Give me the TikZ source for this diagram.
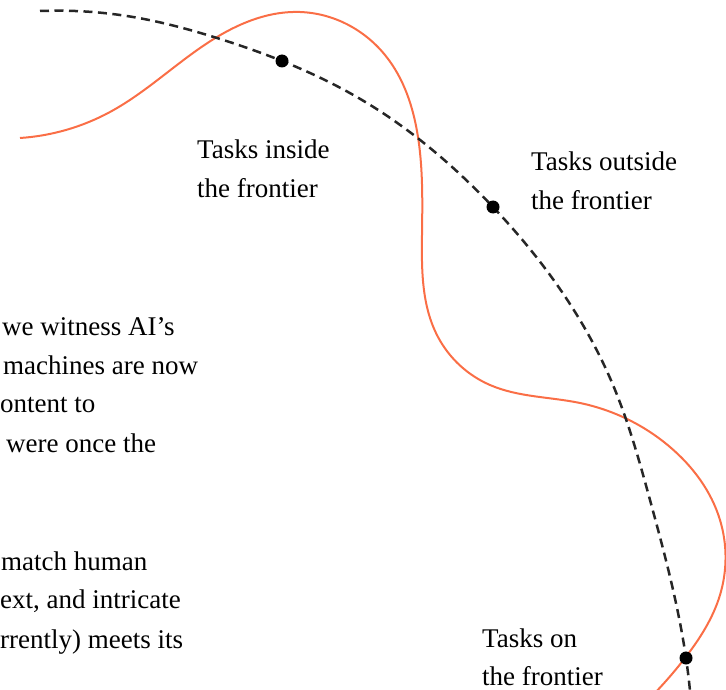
\documentclass[tikz,border=0pt]{standalone}
\usepackage{fontspec}
\setmainfont{Liberation Serif}
\usetikzlibrary{hobby}
\begin{document}
\begin{tikzpicture}[x=1pt,y=-1pt,
  frontier/.style={line width=2.5pt, dash pattern=on 9pt off 5.5pt, black!85},
  taskcurve/.style={line width=2pt, color=coral},
  dotmark/.style={circle, fill=black, inner sep=0pt, minimum size=13pt},
  txt/.style={anchor=base west, inner sep=0pt, font=\fontsize{27}{38}\selectfont}]
\definecolor{coral}{RGB}{250,110,70}
\useasboundingbox (0,0) rectangle (726,690);
\clip (0,0) rectangle (726,690);
% jagged frontier
\draw[taskcurve] (20,138) to[curve through={(110,112) (217,37) (300,12) (385,55)
 (418,137) (422,235) (438,337) (490,385) (580,403) (670,447) (720,520)
 (720,595) (685,658)}] (650,698);
% capability frontier (dashed)
\draw[frontier] (40,11) to[curve through={(133,17) (217,38) (362,100) (493,207)
 (613,385) (650,500) (686,658)}] (691,702);
% dots
\node[dotmark] (d1) at (282,61) {};
\node[dotmark] (d2) at (493,207) {};
\node[dotmark] (d3) at (686,658) {};
% labels
\node[txt] (in1) at (197,159) {Tasks inside};
\node[txt] (in2) at (197,197) {the frontier};
\node[txt] (out1) at (531,171) {Tasks outside};
\node[txt] (out2) at (531,210) {the frontier};
\node[txt] (on1) at (482,647) {Tasks on};
\node[txt] (on2) at (482,685) {the frontier};
% body text at left
\node[txt] (b1) at (2,335) {we witness AI’s};
\node[txt] (b2) at (3,374) {machines are now};
\node[txt] (b3) at (0,412) {ontent to};
\node[txt] (b4) at (6,452) {were once the};
\node[txt] (b5) at (1,570) {match human};
\node[txt] (b6) at (0,608) {ext, and intricate};
\node[txt] (b7) at (0,648) {rrently) meets its};
\end{tikzpicture}
\end{document}
